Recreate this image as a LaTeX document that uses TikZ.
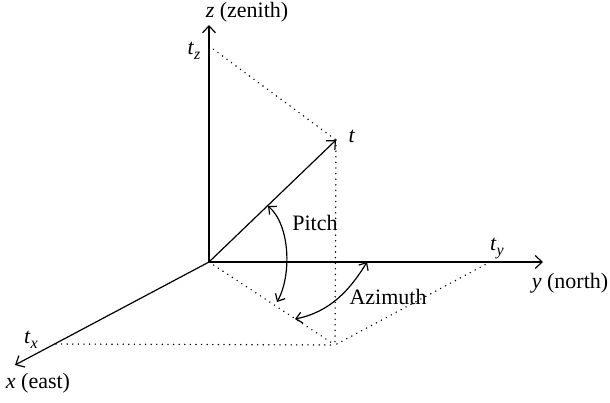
\documentclass[tikz,border=0pt]{standalone}
\usepackage{fontspec}
\setmainfont{Liberation Serif}
\usetikzlibrary{arrows.meta}
\newcommand{\lowsub}[1]{\raisebox{-0.5ex}{\fontsize{16}{17}\selectfont\itshape #1}}
\begin{document}
\begin{tikzpicture}[x=1pt,y=-1pt,
  font=\fontsize{22}{25}\selectfont,
  axis/.style={line width=1.2pt,-{Straight Barb[length=7pt,width=13pt,line width=1.2pt]}},
  proj/.style={line width=1.6pt,line cap=round,dash pattern=on 0pt off 5.6pt},
  anglearc/.style={line width=1.2pt,{Straight Barb[length=6pt,width=11pt,line width=1.2pt]}-{Straight Barb[length=6pt,width=11pt,line width=1.2pt]}},
  lbl/.style={inner sep=0pt}]
\useasboundingbox (0,0) rectangle (610,402);
\coordinate (O) at (209,262);
\coordinate (Z) at (209,25);
\coordinate (Y) at (543,262);
\coordinate (X) at (15,365);
\coordinate (T) at (336,140);
\coordinate (tz) at (209,46);
\coordinate (ty) at (490,262);
\coordinate (tx) at (56,344);
\coordinate (P) at (335,345);
\coordinate (p1) at (268,206);
\coordinate (p2) at (277,302);
\coordinate (a1) at (295,319);
\coordinate (a2) at (367,262);
% projections
\draw[proj] (tz) -- (T);
\draw[proj] (T) -- (P);
\draw[proj] (ty) -- (P);
\draw[proj] (tx) -- (P);
\draw[proj] (O) -- (P);
% axes
\draw[axis] (O) -- (Z);
\draw[axis] (O) -- (Y);
\draw[axis] (O) -- (X);
\draw[axis] (O) -- (T);
% angles
\draw[anglearc] (p1) .. controls (290,225) and (292,275) .. (p2);
\draw[anglearc] (a1) .. controls (330,312) and (350,290) .. (a2);
% labels
\node[lbl] (lz) at (247,12) {\textit{z} (zenith)};
\node[lbl] (ltz) at (194,51) {\textit{t}\lowsub{z}};
\node[lbl] (lt) at (352,136) {\textit{t}};
\node[lbl] (lpitch) at (315,223) {Pitch};
\node[lbl] (laz) at (388,297) {Azimuth};
\node[lbl] (lty) at (497,249) {\textit{t}\lowsub{y}};
\node[lbl] (ly) at (570,283) {\textit{y} (north)};
\node[lbl] (ltx) at (31,340) {\textit{t}\lowsub{x}};
\node[lbl] (lx) at (38,383) {\textit{x} (east)};
\end{tikzpicture}
\end{document}
